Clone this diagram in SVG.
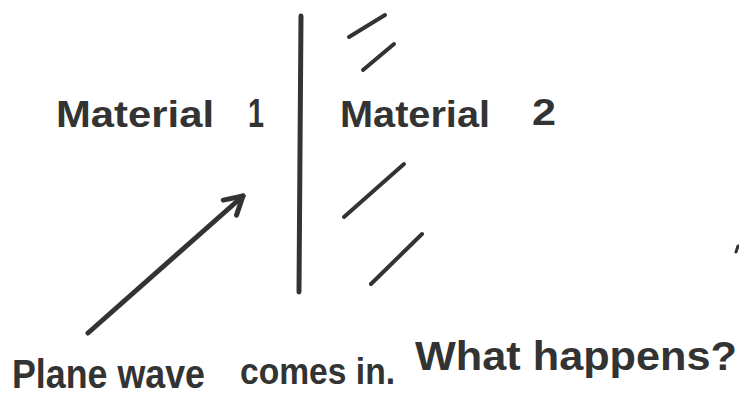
<svg xmlns="http://www.w3.org/2000/svg" width="739" height="403" viewBox="0 0 739 403">
  <style>
    .ink { stroke: #333; fill: none; stroke-linecap: round; stroke-linejoin: round; }
    .txt { font-family: "Liberation Sans", Arial, sans-serif; fill: #333; font-weight: bold; }
  </style>
  <defs>
    <marker id="ah" viewBox="0 0 10 10" refX="8" refY="5" markerWidth="5" markerHeight="5" orient="auto" markerUnits="strokeWidth">
      <path d="M1,1 L8,5 L1,9" stroke="#333" stroke-width="2" fill="none" stroke-linecap="round" stroke-linejoin="round"/>
    </marker>
  </defs>
  <rect width="739" height="403" fill="#fff"/>
  <g id="interface">
    <path class="ink" d="M301,16 L300,150 L299,292" stroke-width="5"/>
  </g>
  <g id="wavefronts">
    <path class="ink" d="M349,37 L385,15" stroke-width="4"/>
    <path class="ink" d="M363,70 L394,44" stroke-width="4"/>
    <path class="ink" d="M344,217 L404,164" stroke-width="4"/>
    <path class="ink" d="M371,284 L422,234" stroke-width="4"/>
    <path class="ink" d="M736,252 L738,246" stroke-width="3"/>
  </g>
  <g id="connectors">
    <path class="ink" d="M88,333 L243,196" stroke-width="5" marker-end="url(#ah)"/>
  </g>
  <g id="material1">
    <text class="txt" x="56" y="127" font-size="36" textLength="158" lengthAdjust="spacingAndGlyphs">Material</text>
    <text class="txt" x="248" y="127" font-size="40" textLength="16" lengthAdjust="spacingAndGlyphs">1</text>
  </g>
  <g id="material2">
    <text class="txt" x="340" y="127" font-size="36" textLength="150" lengthAdjust="spacingAndGlyphs">Material</text>
    <text class="txt" x="532" y="125" font-size="36" textLength="24" lengthAdjust="spacingAndGlyphs">2</text>
  </g>
  <g id="caption">
    <text class="txt" x="12" y="388" font-size="40" textLength="193" lengthAdjust="spacingAndGlyphs">Plane wave</text>
    <text class="txt" x="240" y="384" font-size="36" textLength="155" lengthAdjust="spacingAndGlyphs">comes in.</text>
    <text class="txt" x="415" y="370" font-size="40" textLength="322" lengthAdjust="spacingAndGlyphs">What happens?</text>
  </g>
</svg>
